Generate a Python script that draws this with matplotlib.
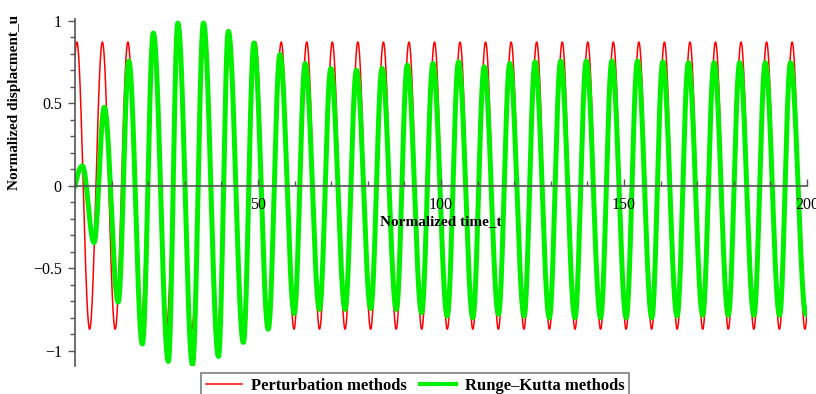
import numpy as np
import matplotlib
matplotlib.use("Agg")
import matplotlib.pyplot as plt
from matplotlib.ticker import FixedLocator, MultipleLocator, FuncFormatter

# turning points of each response, (time, displacement)
# perturbation solution: peaks and troughs with constant amplitude
red_peak_t = [0.50, 7.48, 14.46, 21.44, 28.42, 35.40, 42.38, 49.36, 56.34, 63.32,
              70.30, 77.28, 84.26, 91.24, 98.22, 105.20, 112.18, 119.16, 126.14, 133.12,
              140.10, 147.08, 154.06, 161.04, 168.02, 175.00, 181.98, 188.96, 195.94, 202.92]
red_trough_t = [-2.99, 3.99, 10.97, 17.95, 24.93, 31.91, 38.89, 45.87, 52.85, 59.83,
                66.81, 73.79, 80.77, 87.75, 94.73, 101.71, 108.69, 115.67, 122.65, 129.63,
                136.61, 143.59, 150.57, 157.55, 164.53, 171.51, 178.49, 185.47, 192.45, 199.43]
red_peak_u = 0.87
red_trough_u = -0.87

# Runge-Kutta solution: transient growth, beating, then steady state
green_ext_t = [-2.0, 2.0, 5.2, 8.0, 11.8, 14.7, 18.4, 21.4, 25.5, 28.1,
               32.1, 35.1, 39.2, 41.9, 46.0, 48.9, 52.8, 56.0, 59.9,
               62.9, 66.8, 69.9, 73.8, 76.9, 80.8, 83.9, 87.8, 90.8, 94.7,
               97.8, 101.7, 104.8, 108.7, 111.8, 115.7, 118.8, 122.7, 125.7, 129.6,
               132.7, 136.6, 139.7, 143.6, 146.7, 150.6, 153.7, 157.6, 160.6, 164.5,
               167.6, 171.5, 174.6, 178.5, 181.6, 185.5, 188.6, 192.5, 195.5, 199.7,
               202.7]
green_ext_u = [-0.12, 0.12, -0.345, 0.475, -0.705, 0.755, -0.96, 0.925, -1.065, 0.985,
               -1.085, 0.985, -1.035, 0.935, -0.95, 0.865, -0.87, 0.795, -0.775,
               0.74, -0.75, 0.71, -0.75, 0.70, -0.745, 0.71, -0.75, 0.73, -0.77,
               0.74, -0.79, 0.75, -0.80, 0.72, -0.78, 0.74, -0.79, 0.75, -0.80,
               0.755, -0.80, 0.755, -0.80, 0.755, -0.80, 0.755, -0.80, 0.75, -0.79,
               0.745, -0.785, 0.745, -0.785, 0.745, -0.785, 0.745, -0.785, 0.745, -0.78,
               0.745]

x_major = [50, 100, 150, 200]
y_major = [-1, -0.5, 0, 0.5, 1]


def through_turning_points(t_ext, u_ext, t):
    # smooth half-cosine arcs joining successive turning points
    t_ext = np.asarray(t_ext, float)
    u_ext = np.asarray(u_ext, float)
    i = np.clip(np.searchsorted(t_ext, t, side="right") - 1, 0, len(t_ext) - 2)
    s = (t - t_ext[i]) / (t_ext[i + 1] - t_ext[i])
    return u_ext[i] + (u_ext[i + 1] - u_ext[i]) * (1 - np.cos(np.pi * s)) / 2


red_t = np.empty(len(red_peak_t) + len(red_trough_t))
red_t[0::2] = red_trough_t
red_t[1::2] = red_peak_t
red_u = np.empty_like(red_t)
red_u[0::2] = red_trough_u
red_u[1::2] = red_peak_u

t = np.linspace(0, 200, 8000)
u_pert = through_turning_points(red_t, red_u, t)
u_rk = through_turning_points(green_ext_t, green_ext_u, t)

plt.rcParams['font.family'] = ['Liberation Serif', 'DejaVu Serif']

fig = plt.figure(figsize=(8.16, 3.94), dpi=100)
ax = fig.add_axes([75 / 816, 1 - 366 / 394, 732 / 816, 346.7 / 394])
ax.set_axisbelow(False)  # tick labels sit on top of the curves

ax.plot(t, u_pert, color='#ff0000', lw=1.1, label='Perturbation methods')
ax.plot(t, u_rk, color='#00f000', lw=3.6, label='Runge–Kutta methods')

ax.set_xlim(0, 200)
ax.set_ylim(-1.093, 1.008)

for side in ('top', 'right'):
    ax.spines[side].set_visible(False)
ax.spines['bottom'].set_position(('data', 0))
ax.spines['left'].set_position(('data', 0))
for side in ('bottom', 'left'):
    ax.spines[side].set_color('#555555')
    ax.spines[side].set_linewidth(1.2)

ax.xaxis.set_major_locator(FixedLocator(x_major))
ax.xaxis.set_minor_locator(MultipleLocator(10))
ax.yaxis.set_major_locator(FixedLocator(y_major))
ax.yaxis.set_minor_locator(MultipleLocator(0.1))
ax.yaxis.set_major_formatter(FuncFormatter(lambda v, p: f"{v:g}".replace('-', '\u2212')))

ax.tick_params(axis='x', which='both', direction='in', colors='#555555',
               labelcolor='black', labelsize=11.5, pad=8)
ax.tick_params(axis='x', which='major', length=5, width=1)
ax.tick_params(axis='x', which='minor', length=3.5, width=1)
ax.tick_params(axis='y', which='both', direction='out', colors='#555555',
               labelcolor='black', labelsize=11.5, pad=4.5)
ax.tick_params(axis='y', which='major', length=5, width=1)
ax.tick_params(axis='y', which='minor', length=3.5, width=1)

ax.text(0.5, 0.415, 'Normalized time_t', transform=ax.transAxes, ha='center', va='center',
        fontsize=11, fontweight='bold')
ax.text(-0.082, 0.761, 'Normalized displacment_u', transform=ax.transAxes, rotation=90,
        ha='center', va='center', fontsize=11, fontweight='bold')

leg = fig.legend(loc='upper left', bbox_to_anchor=(200.7 / 816, 1 - 373 / 394), ncol=2,
                 frameon=True, fancybox=False, framealpha=1, edgecolor='#888888',
                 handlelength=2.2, handletextpad=0.5, columnspacing=0.8, borderpad=0.3,
                 borderaxespad=0, prop={'weight': 'bold', 'size': 12})
leg.get_frame().set_linewidth(1.3)
leg.get_lines()[1].set_linewidth(3)

fig.savefig('out.png', dpi=100)
